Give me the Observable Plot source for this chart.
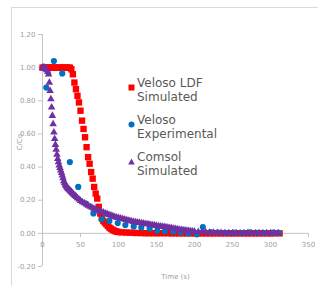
<!DOCTYPE html>
<html><head><meta charset="utf-8">
<script src="https://cdn.jsdelivr.net/npm/d3@7"></script>
<script src="https://cdn.jsdelivr.net/npm/@observablehq/plot@0.6"></script>
<style>
body{margin:0;width:318px;height:286px;overflow:hidden;position:relative;background:#fff;font-family:"DejaVu Sans",sans-serif}
#frame{position:absolute;left:11px;top:7px;width:400px;height:400px;border:1px solid #d9d9d9;box-sizing:border-box}
#chart{position:absolute;left:0;top:0}
#legend{position:absolute;left:128px;top:76px;color:#595959;font-size:12px;line-height:14px}
.item{position:relative;padding-left:9px;margin-bottom:9px;white-space:nowrap}
.mk{position:absolute;left:0;top:4px}
</style></head><body>
<div id="frame"></div>
<div id="chart"></div>
<div id="legend"></div>
<script>
const seriesNames = ["Veloso LDF\nSimulated", "Veloso\nExperimental", "Comsol\nSimulated"];
const seriesColors = ["#ff0000", "#0070c0", "#7030a0"];
const xTicks = [0, 50, 100, 150, 200, 250, 300, 350];
const yTicks = [-0.2, 0, 0.2, 0.4, 0.6, 0.8, 1.0, 1.2];

const ldfTime = [0,2,4,6,8,10,12,14,16,18,20,22,24,26,28,30,32,34,36,38,40,42,44,46,48,50,52,54,56,58,60,62,64,66,68,70,72,74,76,78,80,82,84,86,88,90,92,94,96,98,100,105,110,115,120,125,130,135,140,145,150,155,160,165,170,175,180,185,190,195,200,205,210,215,220,225,230,235,240,245,250,255,260,265,270,275,280,285,290,295,300,305,312];
const ldfValue = [1,1,1,1,1,1,1,1,1,1,1,1,1,1,1,1,1,1,1,0.99,0.96,0.91,0.87,0.83,0.79,0.74,0.68,0.63,0.58,0.52,0.46,0.42,0.37,0.33,0.28,0.24,0.21,0.16,0.12,0.09,0.075,0.065,0.055,0.045,0.035,0.028,0.022,0.017,0.013,0.010,0.008,0.006,0.005,0.004,0.003,0.002,0.002,0.001,0.001,0.001,0.001,0.001,0.001,0.001,0,0,0,0,0,0,0,0,0,0,0,0,0,0,0,0,0,0,0,0,0,0,0,0,0,0,0,0,0];

const expTime = [5,15,26,36,47,57,67,78,88,99,109,120,130,141,151,161,172,182,192,203,211,221,231,241,252,262,272,282,293,303,311];
const expValue = [0.88,1.04,0.965,0.43,0.28,0.18,0.12,0.085,0.075,0.062,0.05,0.042,0.035,0.028,0.016,0.012,0.01,0.006,0.0,-0.006,0.038,0.008,0.005,0.003,0.004,0.002,0.006,0.003,0.002,0.004,0.003];

const comsolTime = [0,1,2,3,4,5,6,7,8,9,10,11,12,13,14,15,16,17,18,19,20,21,22,23,24,25,26,27,28,29,30,31,32,33,34,35,36,37,38,39,40,41.5,43,44.5,46,48,50,52.5,55,57.5,60,62.5,65,67.5,70,72.5,75,77.5,80,82.5,85,87.5,90,92.5,95,97.5,100,102.5,105,107.5,110,112.5,115,117.5,120,122.5,125,127.5,130,132.5,135,137.5,140,142.5,145,147.5,150,152.5,155,157.5,160,162.5,165,167.5,170,172.5,175,177.5,180,182.5,185,187.5,190,192.5,195,197.5,200,205,210,215,220,225,230,235,240,245,250,255,260,265,270,275,280,285,290,295,300,305,310];
const comsolValue = [1,1,1,1,0.995,0.99,0.985,0.975,0.96,0.91,0.86,0.81,0.76,0.71,0.66,0.61,0.57,0.535,0.505,0.475,0.45,0.43,0.41,0.395,0.38,0.365,0.35,0.333,0.315,0.305,0.295,0.287,0.28,0.274,0.268,0.264,0.26,0.255,0.25,0.245,0.24,0.233,0.226,0.22,0.213,0.205,0.197,0.189,0.182,0.175,0.168,0.162,0.156,0.15,0.145,0.14,0.135,0.13,0.126,0.121,0.117,0.112,0.108,0.104,0.1,0.096,0.093,0.09,0.087,0.084,0.081,0.078,0.075,0.072,0.07,0.068,0.066,0.064,0.062,0.06,0.058,0.056,0.054,0.052,0.05,0.048,0.046,0.0445,0.043,0.041,0.039,0.037,0.035,0.033,0.031,0.029,0.027,0.025,0.023,0.021,0.019,0.0175,0.016,0.0145,0.013,0.012,0.011,0.009,0.007,0.006,0.005,0.004,0.003,0.003,0.002,0.002,0.002,0.002,0.001,0.001,0.001,0.001,0.001,0.001,0.001,0.001,0.001,0.001,0.001];

const ldf = ldfTime.map((t, i) => ({t, v: ldfValue[i]}));
const exp = expTime.map((t, i) => ({t, v: expValue[i]}));
const comsol = comsolTime.map((t, i) => ({t, v: comsolValue[i]}));

const axisColor = "#c4c4c4";
const labelColor = "#a0a0a0";

const plot = Plot.plot({
  width: 318, height: 286,
  marginLeft: 42, marginRight: 10, marginTop: 34, marginBottom: 20,
  x: {domain: [0, 350], axis: null},
  y: {domain: [-0.2, 1.2]},
  style: {fontFamily: "DejaVu Sans", fontSize: "7px", background: "transparent", overflow: "visible"},
  marks: [
    Plot.ruleX([0], {stroke: axisColor}),
    Plot.ruleY([0], {stroke: axisColor}),
    Plot.axisY(yTicks, {tickSize: 4, tickPadding: 3, tickFormat: d => d.toFixed(2), label: null, stroke: axisColor, fill: labelColor}),
    Plot.ruleX(xTicks, {x: d => d, y1: 0, y2: -0.025, stroke: axisColor}),
    Plot.text(xTicks, {x: d => d, y: 0, dy: 11, text: d => String(d), fill: labelColor}),
    Plot.text(["Time (s)"], {frameAnchor: "bottom", dy: 12, fill: labelColor}),
    Plot.text(["C/Co"], {frameAnchor: "left", dx: -23, rotate: -90, fill: labelColor}),
    Plot.dot(ldf, {x: "t", y: "v", symbol: "square", r: 3.6, fill: seriesColors[0]}),
    Plot.dot(exp, {x: "t", y: "v", symbol: "circle", r: 3.1, fill: seriesColors[1]}),
    Plot.dot(comsol, {x: "t", y: "v", symbol: "triangle", r: 2.8, fill: seriesColors[2]})
  ]
});
document.getElementById("chart").appendChild(plot);

const markers = [
  c => `<svg width="7" height="7"><rect x="0.5" y="0.5" width="6" height="6" fill="${c}"/></svg>`,
  c => `<svg width="7" height="7"><circle cx="3.5" cy="3.5" r="3" fill="${c}"/></svg>`,
  c => `<svg width="7" height="7"><path d="M3.5 0.5 L6.8 6.5 L0.2 6.5 Z" fill="${c}"/></svg>`
];
const legend = document.getElementById("legend");
seriesNames.forEach((name, i) => {
  const div = document.createElement("div");
  div.className = "item";
  div.innerHTML = `<span class="mk">${markers[i](seriesColors[i])}</span>` + name.split("\n").join("<br>");
  legend.appendChild(div);
});
</script>
</body></html>
